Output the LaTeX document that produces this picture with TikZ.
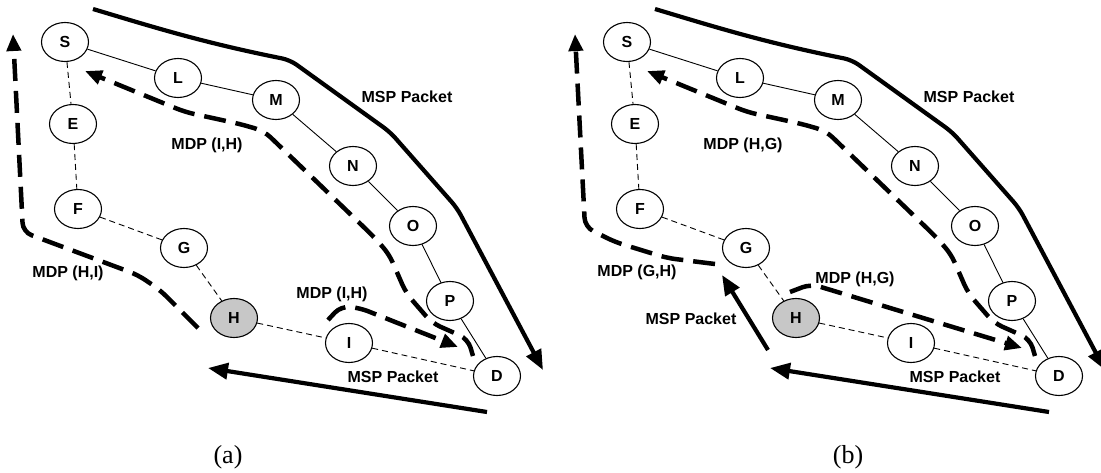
\documentclass[tikz,border=0pt]{standalone}
\usepackage{fontspec}
\setmainfont{Liberation Serif}
\setsansfont{Liberation Sans}
\usetikzlibrary{arrows.meta,shapes.geometric}
\begin{document}
\begin{tikzpicture}[x=1pt,y=-1pt,
 nd/.style={ellipse,draw,line width=1.1pt,minimum width=47pt,minimum height=39pt,inner sep=0pt,font=\sffamily\bfseries\fontsize{16}{16}\selectfont},
 hn/.style={nd,fill=black!22},
 link/.style={line width=0.9pt},
 dlink/.style={line width=0.9pt,dash pattern=on 6pt off 4pt},
 msp/.style={line width=4.2pt,rounded corners=8pt,-{Triangle[length=20pt,width=16pt]}},
 mdp/.style={line width=4.5pt,dash pattern=on 22pt off 10pt,rounded corners=9pt,-{Triangle[length=17pt,width=14pt]}},
 lbl/.style={font=\sffamily\bfseries\fontsize{16}{16}\selectfont,inner sep=0pt},
 captxt/.style={font=\fontsize{26}{26}\selectfont,inner sep=0pt}]
\useasboundingbox (0,0) rectangle (1101,472);
\foreach \p/\dx in {a/0,b/562}{
 \begin{scope}[xshift=\dx pt]
  \node[nd] (\p S) at (65,42) {S};
  \node[nd] (\p L) at (178,78) {L};
  \node[nd] (\p M) at (276,100) {M};
  \node[nd] (\p N) at (353,166) {N};
  \node[nd] (\p O) at (413,226) {O};
  \node[nd] (\p P) at (450,301) {P};
  \node[nd] (\p D) at (497,376) {D};
  \node[nd] (\p E) at (73,124) {E};
  \node[nd] (\p F) at (78,209) {F};
  \node[nd] (\p G) at (184,248) {G};
  \node[hn] (\p H) at (234,318) {H};
  \node[nd] (\p I) at (349,343) {I};
  \draw[link] (\p S) -- (\p L) -- (\p M) -- (\p N) -- (\p O) -- (\p P) -- (\p D);
  \draw[dlink] (\p S) -- (\p E) -- (\p F) -- (\p G) -- (\p H) -- (\p I) -- (\p D);
  % top MSP
  \coordinate (\p t0) at (93,9);
  \coordinate (\p t1) at (543,370);
  \draw[msp] (\p t0) .. controls (150,26) and (200,42) .. (290,60) -- (390,132) -- (457,208) -- (\p t1);
  \node[lbl] (\p mt) at (407,97) {MSP Packet};
  % bottom MSP
  \coordinate (\p b0) at (487,412);
  \coordinate (\p b1) at (208,368);
  \draw[msp] (\p b0) -- (\p b1);
  \node[lbl] (\p mb) at (393,377) {MSP Packet};
  % upper MDP
  \coordinate (\p u0) at (473,356);
  \coordinate (\p u1) at (85,71);
  \draw[mdp] (\p u0) -- (468,339) -- (432,323) -- (406,293) -- (389,254) -- (373,236) -- (264,131) -- (240,124) -- (185,112) -- (\p u1);
 \end{scope}
}
% panel (a) specific
\coordinate (al0) at (198,328);
\coordinate (al1) at (13,34);
\draw[mdp] (al0) -- (160,290) -- (138,275) -- (23,232) -- (al1);
\node[lbl] (alab1) at (207,145) {MDP (I,H)};
\node[lbl] (alab2) at (68,273) {MDP (H,I)};
\coordinate (ar0) at (328,320);
\coordinate (ar1) at (458,347);
\draw[mdp] (ar0) -- (341,306) -- (360,308) -- (ar1);
\node[lbl] (alab3) at (332,294) {MDP (I,H)};
\node[captxt] (capa) at (228,457) {(a)};
% panel (b) specific
\coordinate (bl0) at (715,264);
\coordinate (bl1) at (575,34);
\draw[mdp] (bl0) -- (667,258) -- (615,242) -- (585,227) -- (bl1);
\node[lbl] (blab1) at (743,145) {MDP (H,G)};
\node[lbl] (blab2) at (637,272) {MDP (G,H)};
\coordinate (bm0) at (768,350);
\coordinate (bm1) at (722,275);
\draw[msp] (bm0) -- (bm1);
\node[lbl] (blab4) at (691,319) {MSP Packet};
\coordinate (br0) at (790,292);
\coordinate (br1) at (1022,348);
\draw[mdp] (br0) -- (811,284) -- (br1);
\node[lbl] (blab3) at (855,279) {MDP (H,G)};
\node[captxt] (capb) at (848,457) {(b)};
\end{tikzpicture}
\end{document}
